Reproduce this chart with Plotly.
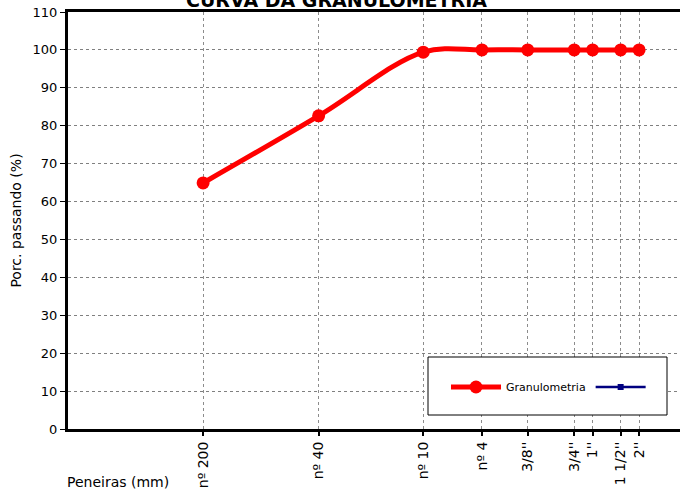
import math
import plotly.graph_objects as go

# Sieve openings (mm) and cumulative percentage passing
sieve_labels = ["nº 200", "nº 40", "nº 10", "nº 4", "3/8''", "3/4''", "1''", "1 1/2''", "2''"]
sieve_mm = [0.075, 0.42, 2.0, 4.8, 9.5, 19.0, 25.0, 38.0, 50.0]
passing = [64.9, 82.6, 99.4, 100.0, 100.0, 100.0, 100.0, 100.0, 100.0]

W, H = 680, 493
L, R, T, B = 68, 0, 12, 64
font_family = "Tahoma, 'DejaVu Sans', Verdana, sans-serif"

fig = go.Figure()

fig.add_trace(go.Scatter(
    x=sieve_mm, y=passing, name="Granulometria",
    mode="lines+markers",
    line=dict(color="#ff0000", width=5, shape="spline", smoothing=1.0),
    marker=dict(color="#ff0000", size=13, symbol="circle"),
))
# second (empty) series shown only in the legend
fig.add_trace(go.Scatter(
    x=[None], y=[None], name=" ",
    mode="lines+markers",
    line=dict(color="#000080", width=2.5),
    marker=dict(color="#000080", size=6, symbol="square"),
))

fig.update_xaxes(
    type="log",
    range=[-2, 1.964],
    tickmode="array", tickvals=sieve_mm, ticktext=sieve_labels,
    tickangle=-90,
    tickfont=dict(family=font_family, size=14, color="#000000"),
    showgrid=True, gridcolor="#8c8c8c", gridwidth=1, griddash="dot",
    showline=True, linecolor="#000000", linewidth=3, mirror=True,
    ticks="outside", ticklen=4, tickwidth=2, tickcolor="#000000",
    zeroline=False,
)
fig.update_yaxes(
    range=[0, 110], dtick=10, tick0=0,
    tickfont=dict(family=font_family, size=13, color="#000000"),
    title=dict(text="Porc. passando (%)",
               font=dict(family=font_family, size=14, color="#000000"),
               standoff=8),
    showgrid=True, gridcolor="#808080", gridwidth=1, griddash="dot",
    showline=True, linecolor="#000000", linewidth=3,
    ticks="outside", ticklen=5, tickwidth=1, tickcolor="#000000",
    zeroline=False,
)

pw = W - L - R
ph = H - T - B

def px_x(p):
    return (p - L) / pw

def px_y(p):
    return (H - B - p) / ph

# legend frame
fig.add_shape(type="rect", xref="paper", yref="paper",
              x0=px_x(428), x1=px_x(667), y0=px_y(415), y1=px_y(357),
              line=dict(color="#000000", width=1), fillcolor="#ffffff", layer="above")

fig.update_layout(
    width=W, height=H,
    margin=dict(l=L, r=R, t=T, b=B, autoexpand=False),
    paper_bgcolor="#ffffff", plot_bgcolor="#ffffff",
    font=dict(family=font_family, color="#000000"),
    showlegend=True,
    legend=dict(
        orientation="h",
        x=px_x(446), y=px_y(387), xanchor="left", yanchor="middle",
        bgcolor="rgba(0,0,0,0)", borderwidth=0,
        font=dict(family=font_family, size=11, color="#000000"),
        itemwidth=50,
    ),
    annotations=[
        dict(text="<b>CURVA DA GRANULOMETRIA</b>", xref="paper", yref="paper",
             x=px_x(336), y=px_y(0), xanchor="center", yanchor="middle",
             showarrow=False, font=dict(family=font_family, size=19, color="#000000")),
        dict(text="Peneiras (mm)", xref="paper", yref="paper",
             x=px_x(118), y=px_y(482), xanchor="center", yanchor="middle",
             showarrow=False, font=dict(family=font_family, size=14, color="#000000")),
    ],
)

fig.write_html("out.html")
